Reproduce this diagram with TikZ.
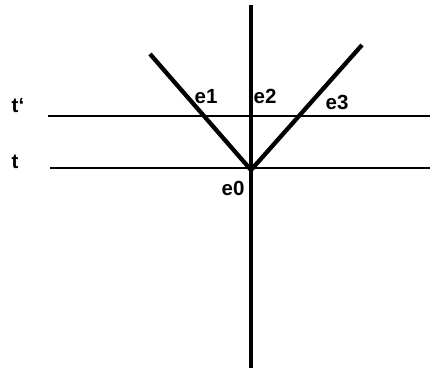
\documentclass[tikz,border=0pt]{standalone}
\usepackage{fontspec}
\setmainfont{Liberation Sans}
\begin{document}
\begin{tikzpicture}[x=1pt,y=-1pt,
    thickline/.style={line width=4.3pt},
    thinline/.style={line width=1.4pt},
    lbl/.style={font=\fontsize{20.5}{22}\selectfont\bfseries, inner sep=0pt}]
  \useasboundingbox (0,0) rectangle (430,372);
  \coordinate (E0) at (251,170);
  \coordinate (Top) at (251,5);
  \coordinate (Bot) at (251,368);
  \coordinate (L) at (150,54);
  \coordinate (R) at (362,45);
  \coordinate (T1a) at (48,116);
  \coordinate (T1b) at (430,116);
  \coordinate (T0a) at (50,168);
  \coordinate (T0b) at (430,168);

  \draw[thinline] (T1a) -- (T1b);
  \draw[thinline] (T0a) -- (T0b);
  \draw[thickline] (Top) -- (Bot);
  \draw[thickline, line join=miter] (L) -- (E0) -- (R);

  \node[lbl] (tp) at (18,106) {t‘};
  \node[lbl] (t) at (15,162) {t};
  \node[lbl] (e1) at (206,97) {e1};
  \node[lbl] (e2) at (265,96) {e2};
  \node[lbl] (e3) at (337,102) {e3};
  \node[lbl] (e0) at (233,188) {e0};
\end{tikzpicture}
\end{document}
